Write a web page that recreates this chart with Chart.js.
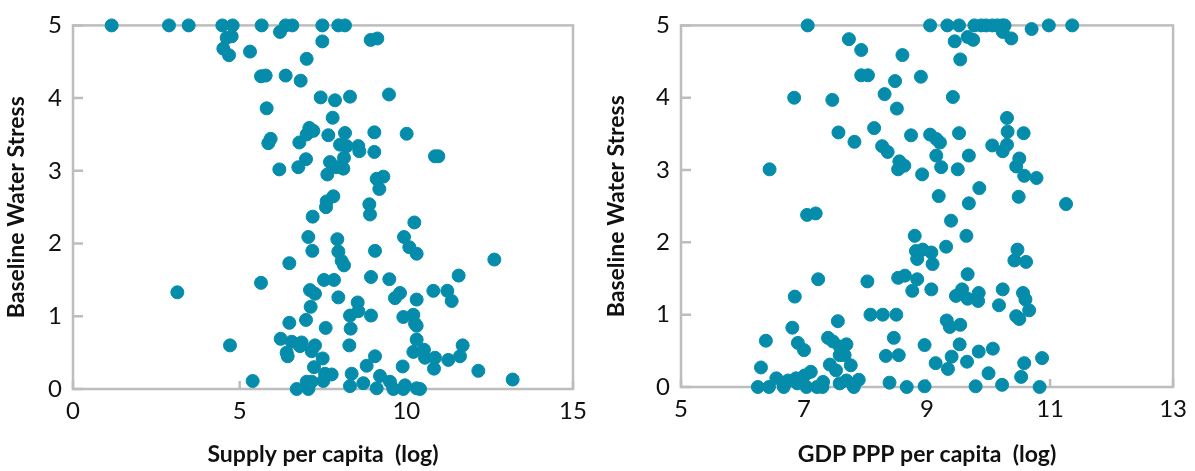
<!DOCTYPE html>
<html>
<head>
<meta charset="utf-8">
<script src="https://cdn.jsdelivr.net/npm/chart.js@4.4.1/dist/chart.umd.min.js"></script>
<style>
  html, body { margin: 0; padding: 0; background: #fff; }
  #wrap { position: relative; width: 1195px; height: 471px; }
  .box { position: absolute; top: 0; height: 471px; }
</style>
</head>
<body>
<div id="wrap">
  <div class="box" style="left:0;width:600px"><canvas id="chartSupply"></canvas></div>
  <div class="box" style="left:600px;width:595px"><canvas id="chartGdp"></canvas></div>
</div>
<script>
// Supply per capita (log) vs baseline water stress
const supplyPerCapita = [1.16,2.88,3.47,4.48,4.79,5.66,6.38,6.58,7.48,7.96,8.16,
  6.21,4.61,4.76,4.51,4.68,5.31,7.48,7.01,8.93,9.13,
  5.64,5.78,6.38,6.83,7.43,7.86,8.31,9.48,5.81,7.79,
  7.09,7.21,7.01,7.66,8.16,9.04,10.01,5.93,5.86,6.79,
  8.01,8.21,8.56,8.59,9.04,10.86,10.96,6.99,6.76,6.19,7.71,8.13,7.91,8.11,7.63,
  9.11,9.31,9.19,7.81,7.61,8.89,7.59,8.91,7.19,10.24,
  7.06,7.93,9.93,7.18,7.96,8.06,8.13,9.06,10.09,10.31,12.64,
  6.49,5.64,3.13,7.53,7.83,8.94,9.49,11.57,
  7.11,7.26,7.96,7.13,8.54,8.31,8.56,8.94,9.66,9.81,10.31,10.81,11.23,11.36,
  6.49,6.99,7.58,8.33,9.91,10.21,10.26,10.31,
  4.71,6.23,6.56,6.81,6.86,6.41,6.44,7.16,7.26,7.49,7.23,8.29,10.31,
  10.21,10.53,10.56,10.86,10.83,11.26,11.61,11.69,12.16,8.81,9.06,9.89,
  5.39,7.56,7.76,7.51,6.71,7.01,7.06,7.16,
  8.36,8.31,8.71,9.21,9.51,9.11,9.61,9.96,9.91,10.31,10.41,13.19];
const stressSupply = [5,5,5,5,5,5,5,5,5,5,5,
  4.91,4.83,4.85,4.68,4.59,4.64,4.78,4.54,4.80,4.82,
  4.30,4.31,4.31,4.24,4.01,3.97,4.02,4.05,3.86,3.73,
  3.59,3.55,3.50,3.49,3.52,3.53,3.51,3.44,3.38,3.39,
  3.36,3.34,3.34,3.27,3.26,3.20,3.20,3.16,3.05,3.02,3.12,3.18,3.05,3.03,2.95,
  2.89,2.92,2.75,2.65,2.58,2.54,2.50,2.40,2.37,2.29,
  2.09,2.06,2.09,1.90,1.89,1.76,1.70,1.90,1.95,1.86,1.78,
  1.73,1.46,1.33,1.50,1.50,1.54,1.51,1.56,
  1.36,1.31,1.26,1.13,1.19,1.01,1.07,1.01,1.25,1.32,1.23,1.35,1.35,1.21,
  0.91,0.95,0.84,0.83,0.99,1.02,0.90,0.87,
  0.60,0.69,0.65,0.59,0.64,0.50,0.45,0.52,0.60,0.42,0.30,0.60,0.68,
  0.51,0.54,0.43,0.43,0.28,0.40,0.45,0.60,0.25,0.32,0.45,0.31,
  0.11,0.21,0.20,0.11,0,0.10,0,0.10,
  0.21,0.04,0.08,0.18,0.10,0.01,0,0.05,0,0.01,0,0.13];

// GDP PPP per capita (log) vs baseline water stress
const gdpPerCapita = [7.06,9.05,9.33,9.52,9.77,9.88,9.96,10.06,10.14,10.22,10.26,10.98,11.36,10.70,
  10.23,10.37,9.66,9.75,9.45,9.54,7.73,7.93,8.60,
  7.93,8.04,8.48,8.90,8.31,6.84,7.46,9.42,8.51,
  10.30,10.31,10.57,7.56,8.14,7.82,8.27,8.36,8.74,
  9.05,9.15,9.21,9.52,10.06,10.23,10.30,9.15,9.68,10.50,10.45,
  6.44,8.55,8.63,8.53,8.92,9.23,9.50,10.58,10.78,
  9.85,9.19,10.49,9.68,11.26,
  7.05,7.19,9.39,8.80,9.64,8.82,8.93,8.84,9.31,9.07,9.09,
  10.47,10.42,10.61,
  7.23,8.03,8.53,8.64,8.84,9.66,8.76,6.85,
  9.07,9.47,9.57,9.66,9.84,9.83,10.23,10.17,10.56,10.60,10.66,
  8.08,8.28,8.50,10.45,10.50,9.32,9.37,9.54,
  7.55,6.81,6.38,6.90,7.00,7.39,7.47,7.58,7.69,8.46,8.96,9.53,
  7.58,7.66,8.33,8.54,9.84,10.07,9.40,9.14,9.34,9.65,10.00,10.58,10.87,10.53,
  6.30,7.42,7.52,7.76,
  6.25,6.43,6.55,6.67,6.74,6.87,6.89,7.01,7.11,7.04,7.21,7.31,7.30,7.58,7.69,7.81,7.89,8.39,8.67,8.96,9.79,10.22,10.83];
const stressGdp = [5,5,5,5,5,5,5,5,5,5,5,5,5,4.95,
  4.91,4.82,4.84,4.80,4.78,4.53,4.81,4.66,4.59,
  4.31,4.31,4.23,4.29,4.05,4.00,3.97,4.01,3.85,
  3.72,3.53,3.51,3.52,3.58,3.39,3.33,3.25,3.48,
  3.49,3.43,3.38,3.51,3.34,3.26,3.35,3.20,3.20,3.16,3.05,
  3.01,3.12,3.06,3.01,2.94,3.04,3.01,2.92,2.89,
  2.75,2.64,2.63,2.54,2.53,
  2.38,2.40,2.30,2.09,2.09,1.88,1.90,1.77,1.94,1.86,1.70,
  1.90,1.75,1.73,
  1.49,1.46,1.51,1.54,1.49,1.56,1.33,1.25,
  1.35,1.26,1.35,1.22,1.30,1.19,1.35,1.13,1.30,1.21,1.06,
  1.00,1.00,1.00,0.98,0.94,0.92,0.83,0.86,
  0.91,0.82,0.64,0.61,0.51,0.68,0.63,0.56,0.59,0.68,0.58,0.59,
  0.44,0.44,0.43,0.44,0.49,0.53,0.42,0.33,0.25,0.35,0.19,0.33,0.40,0.14,
  0.27,0.31,0.23,0.30,
  0,0,0.12,0,0.09,0.12,0.05,0.16,0.21,0,0,0.07,0,0.05,0.09,0,0.10,0.06,0,0.01,0.01,0.03,0];

const supplyTicks = [0, 5, 10, 15];
const gdpTicks = [5, 7, 9, 11, 13];
const stressTicks = [0, 1, 2, 3, 4, 5];

const dotColor = "#058cab";
const frameColor = "#bdbdbd";
const textColor = "#111";
const fontName = "Lato, 'Open Sans', sans-serif";

// caja gris con marcas hacia dentro
const framePlugin = {
    id: "frame",
    beforeDatasetsDraw(chart) {
        const { ctx, chartArea: a, scales } = chart;
        ctx.save();
        ctx.strokeStyle = frameColor;
        ctx.lineWidth = 2.5;
        ctx.strokeRect(a.left, a.top, a.right - a.left, a.bottom - a.top);
        ctx.beginPath();
        scales.y.ticks.forEach(t => {
            const py = scales.y.getPixelForValue(t.value);
            ctx.moveTo(a.left, py);
            ctx.lineTo(a.left + 10, py);
        });
        scales.x.ticks.forEach(t => {
            const px = scales.x.getPixelForValue(t.value);
            ctx.moveTo(px, a.bottom);
            ctx.lineTo(px, a.bottom - 8);
        });
        ctx.stroke();
        ctx.restore();
    }
};

function crearScatter(id, xs, ys, xTicks, xTitle, box) {
    const puntos = xs.map((x, i) => ({ x, y: ys[i] }));
    return new Chart(document.getElementById(id), {
        type: "scatter",
        data: {
            datasets: [{
                data: puntos,
                backgroundColor: dotColor,
                borderColor: dotColor,
                pointRadius: 6.5,
                pointHoverRadius: 6.5,
                clip: false
            }]
        },
        options: {
            responsive: true,
            maintainAspectRatio: false,
            animation: false,
            layout: { padding: { top: box.top, right: box.right, left: 0, bottom: 0 } },
            plugins: { legend: { display: false }, tooltip: { enabled: false } },
            scales: {
                x: {
                    type: "linear",
                    min: xTicks[0],
                    max: xTicks[xTicks.length - 1],
                    afterBuildTicks: s => { s.ticks = xTicks.map(v => ({ value: v })); },
                    afterFit: s => { s.height = box.xHeight; },
                    grid: { display: false, drawTicks: false },
                    border: { display: false },
                    ticks: { color: textColor, font: { family: fontName, size: 24 }, padding: 8, maxRotation: 0 },
                    title: {
                        display: true, text: xTitle, color: textColor,
                        font: { family: fontName, size: 23, weight: "bold" },
                        padding: { top: 0, bottom: 3 }
                    }
                },
                y: {
                    min: 0,
                    max: 5,
                    afterBuildTicks: s => { s.ticks = stressTicks.map(v => ({ value: v })); },
                    afterFit: s => { s.width = box.yWidth; },
                    grid: { display: false, drawTicks: false },
                    border: { display: false },
                    ticks: { color: textColor, font: { family: fontName, size: 24 }, padding: 11 },
                    title: {
                        display: true, text: "Baseline Water Stress", color: textColor,
                        font: { family: fontName, size: 23, weight: "bold" },
                        padding: { top: 3, bottom: 0 }
                    }
                }
            }
        },
        plugins: [framePlugin]
    });
}

crearScatter("chartSupply", supplyPerCapita, stressSupply, supplyTicks, "Supply per capita  (log)",
    { top: 13, right: 27, xHeight: 82, yWidth: 73 });
crearScatter("chartGdp", gdpPerCapita, stressGdp, gdpTicks, "GDP PPP per capita  (log)",
    { top: 15, right: 21, xHeight: 84, yWidth: 81 });
</script>
</body>
</html>
